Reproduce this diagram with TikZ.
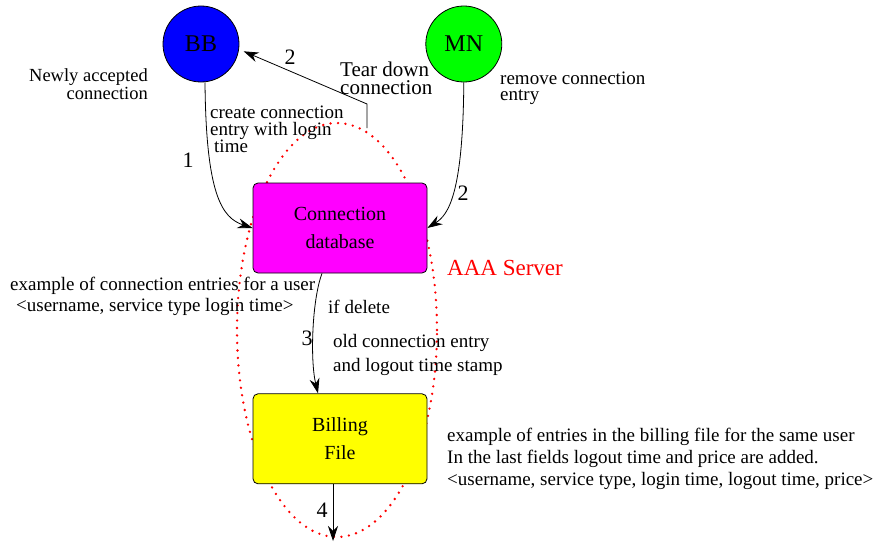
\documentclass[tikz,border=0pt]{standalone}
\usepackage{fontspec}
\setmainfont{Liberation Serif}
\usetikzlibrary{positioning,arrows.meta}
\definecolor{hostblue}{RGB}{0,0,255}
\definecolor{hostgreen}{RGB}{0,255,0}
\definecolor{dbmagenta}{RGB}{255,0,255}
\definecolor{billyellow}{RGB}{255,255,0}
\definecolor{serverred}{RGB}{255,0,0}
\tikzset{Host/.style={%
    shape=circle,%
    draw=black,%
    line width=0.8pt,%
    minimum size=76pt,%
    inner sep=0pt,%
    font=\fontsize{24}{24}\selectfont,%
}}
\tikzset{Store/.style={%
    shape=rectangle,%
    draw=black,%
    line width=0.8pt,%
    rounded corners=5pt,%
    minimum width=174pt,%
    minimum height=90pt,%
    align=center,%
    font=\fontsize{20}{28}\selectfont,%
}}
\tikzset{FlowEdge/.style={%
    -{Stealth[length=15pt,width=10pt]},%
    line width=0.8pt,%
}}
\tikzset{Note/.style={%
    align=left,%
    inner sep=0pt,%
    font=\fontsize{19}{21}\selectfont,%
}}
\tikzset{StepNum/.style={%
    inner sep=0pt,%
    font=\fontsize{22}{22}\selectfont,%
}}
\tikzset{ServerLine/.style={%
    draw=serverred,%
    line width=2.6pt,%
    line cap=round,%
    dash pattern=on 0pt off 7.5pt,%
}}

\begin{document}
\begin{tikzpicture}[x=1pt,y=-1pt]
    \useasboundingbox (0,0) rectangle (882,543);

    % AAA server boundary
    \draw[ServerLine] (337,330) ellipse [x radius=100pt, y radius=207pt];

    \node[Host, fill=hostblue] (BB) at (201,44) {BB};
    \node[Host, fill=hostgreen, right=186pt of BB] (MN) {MN};
    \node[Store, fill=dbmagenta] (conn) at (340,228) {Connection\\database};
    \node[Store, fill=billyellow, below=120pt of conn] (bill) {Billing\\File};
    \coordinate (tear) at (367,128);
    \coordinate (out) at (333,541);

    \draw[FlowEdge] ([xshift=4pt]BB.south) .. controls (206,195) and (222,218) .. (conn.west);
    \draw[FlowEdge] (MN.south) .. controls (463,195) and (448,215) .. (conn.east);
    \draw[FlowEdge, shorten >=5pt] (tear) -- (367,104) -- (BB.-8);
    \draw[FlowEdge] ([xshift=-18pt]conn.south) .. controls (312,300) and (310,360) .. ([xshift=-22pt]bill.north);
    \draw[FlowEdge] ([xshift=-7pt]bill.south) -- (out);

    \node[StepNum] (n1) at (188,160) {1};
    \node[StepNum] (n2a) at (290,57) {2};
    \node[StepNum] (n2b) at (463,193) {2};
    \node[StepNum] (n3) at (307,338) {3};
    \node[StepNum] (n4) at (322,510) {4};

    \node[Note, align=right, anchor=east, font=\fontsize{18.5}{18}\selectfont] (newconn) at (148,84) {Newly accepted\\connection};
    \node[Note, anchor=west, font=\fontsize{21}{18}\selectfont] (teardown) at (340,78) {Tear down\\connection};
    \node[Note, anchor=west, font=\fontsize{19}{16}\selectfont] (remove) at (500,88) {remove connection\\entry};
    \node[Note, anchor=west, font=\fontsize{19}{17}\selectfont] (create) at (210,129) {create connection\\entry with login\\\hspace{4pt}time};
    \node[Note, anchor=west, text=serverred, font=\fontsize{23}{23}\selectfont] (aaa) at (447,268) {AAA Server};
    \node[Note, anchor=west] (connex) at (10,296) {example of connection entries for a user\\\hspace{6pt}<username, service type login time>};
    \node[Note, anchor=west] (ifdel) at (328,307) {if delete};
    \node[Note, anchor=west, font=\fontsize{19}{24}\selectfont] (oldentry) at (333,355) {old connection entry\\and logout time stamp};
    \node[Note, anchor=west, font=\fontsize{19}{22}\selectfont] (billex) at (447,459) {example of entries in the billing file for the same user\\In the last fields logout time and price are added.\\<username, service type, login time, logout time, price>};
\end{tikzpicture}
\end{document}
